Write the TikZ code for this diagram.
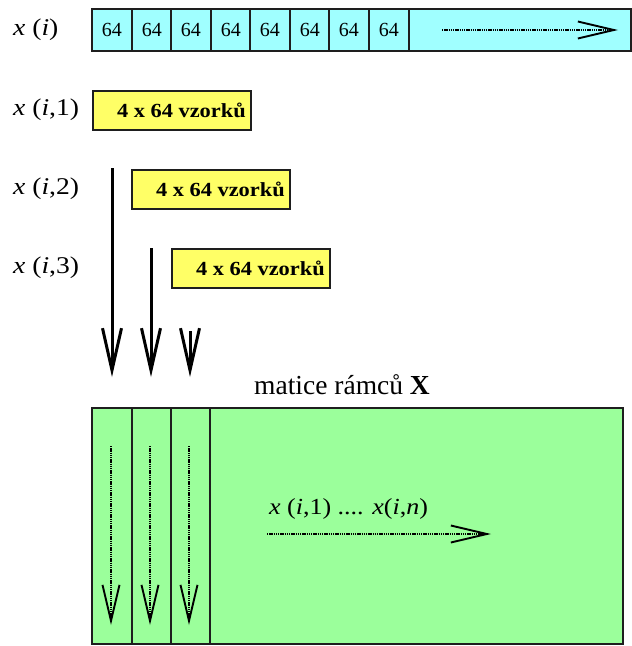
\documentclass[tikz,border=0pt]{standalone}
\usepackage{fontspec}
\setmainfont{Liberation Serif}
\usetikzlibrary{arrows.meta}
\definecolor{barcyan}{RGB}{160,255,255}
\definecolor{boxyellow}{RGB}{255,255,102}
\definecolor{matgreen}{RGB}{155,255,155}
\definecolor{edgegray}{RGB}{30,30,30}
\tikzset{
  edge/.style={draw=edgegray,line width=2pt},
  cellbox/.style={edge,fill=barcyan,minimum width=39.5pt,minimum height=42pt,inner sep=0pt,anchor=north west,font=\fontsize{20}{20}\selectfont},
  framebox/.style={edge,fill=boxyellow,minimum width=158pt,minimum height=39pt,inner sep=0pt,anchor=north west},
  framelabel/.style={anchor=east,inner sep=0pt,font=\fontsize{20}{20}\bfseries\selectfont},
  siglabel/.style={anchor=west,inner sep=0pt,font=\fontsize{24}{24}\selectfont},
  colbox/.style={edge,fill=matgreen,minimum width=39pt,minimum height=236pt,inner sep=0pt,anchor=north west},
  bigarrow/.style={line width=3pt,-{Straight Barb[length=42pt,width=19pt]}},
  dotarrow/.style={line width=1.7pt,dash pattern=on 1.4pt off 0.8pt,-{Straight Barb[length=36pt,width=17pt,line width=1.9pt]}},
}
\begin{document}
\begin{tikzpicture}[x=1pt,y=-1pt]
\useasboundingbox (0,0) rectangle (632,646);

% signal x(i) split into blocks of 64 samples
\node[edge,fill=barcyan,minimum width=539pt,minimum height=42pt,inner sep=0pt,anchor=north west] (bar) at (91,8) {};
\foreach \k/\xx in {1/91,2/131,3/170,4/210,5/249,6/289,7/328,8/368}{
  \node[cellbox] (c\k) at (\xx,8) {64};
}
\coordinate (barA) at (442,30);
\coordinate (barB) at (618,30);
\draw[dotarrow] (barA) -- (barB);

% row labels
\node[siglabel] (lx) at (13,30) {\scalebox{1.15}[1]{\textit{x} (\textit{i})}};
\node[siglabel] (lx1) at (13,110) {\scalebox{1.15}[1]{\textit{x} (\textit{i},1)}};
\node[siglabel] (lx2) at (13,189) {\scalebox{1.15}[1]{\textit{x} (\textit{i},2)}};
\node[siglabel] (lx3) at (13,268) {\scalebox{1.15}[1]{\textit{x} (\textit{i},3)}};

% overlapping frames of 4 x 64 samples
\node[framebox] (f1) at (92,90) {};
\node[framebox] (f2) at (131,169) {};
\node[framebox] (f3) at (171,248) {};
\foreach \k in {1,2,3}{
  \node[framelabel] (t\k) at ([xshift=-6pt]f\k.east) {\scalebox{1.12}[1]{4 x 64 vzorků}};
}

% frames are placed as columns of the matrix
\coordinate (d1s) at (112,168);
\coordinate (d1e) at (112,377);
\coordinate (d2s) at (151,248);
\coordinate (d2e) at (151,377);
\coordinate (d3s) at (190,331);
\coordinate (d3e) at (190,377);
\draw[bigarrow] (d1s) -- (d1e);
\draw[bigarrow] (d2s) -- (d2e);
\draw[bigarrow] (d3s) -- (d3e);

% frame matrix X
\node[anchor=center,inner sep=0pt,font=\fontsize{27.5}{27.5}\selectfont] (title) at (342,385) {matice rámců \textbf{X}};
\node[edge,fill=matgreen,minimum width=531pt,minimum height=236pt,inner sep=0pt,anchor=north west] (mat) at (91,407) {};
\node[colbox,minimum width=40pt] (k1) at (91,407) {};
\node[colbox] (k2) at (131,407) {};
\node[colbox] (k3) at (170,407) {};

\coordinate (v1s) at (111,446);
\coordinate (v1e) at (111,625);
\coordinate (v2s) at (150,446);
\coordinate (v2e) at (150,625);
\coordinate (v3s) at (189,446);
\coordinate (v3e) at (189,625);
\draw[dotarrow] (v1s) -- (v1e);
\draw[dotarrow] (v2s) -- (v2e);
\draw[dotarrow] (v3s) -- (v3e);

\node[anchor=west,inner sep=0pt,font=\fontsize{23}{23}\selectfont] (seq) at (269,509) {\scalebox{1.13}[1]{\textit{x} (\textit{i},1) .... \textit{x}(\textit{i},\textit{n})}};
\coordinate (hA) at (267,534);
\coordinate (hB) at (491,534);
\draw[dotarrow] (hA) -- (hB);
\end{tikzpicture}
\end{document}
